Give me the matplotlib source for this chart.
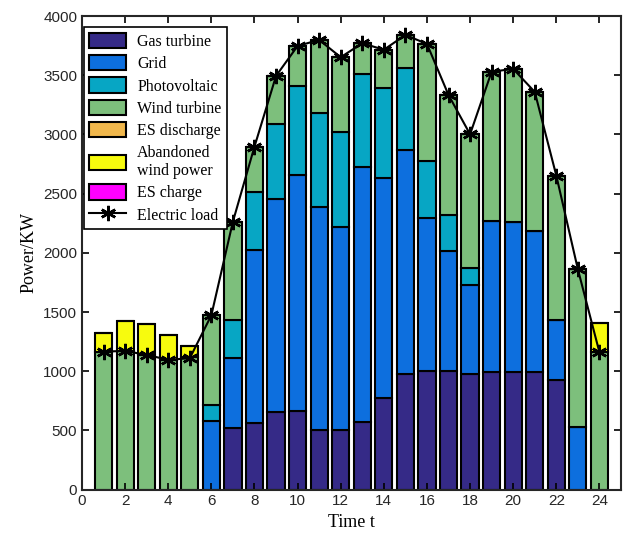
import numpy as np
import matplotlib
matplotlib.use("Agg")
import matplotlib.pyplot as plt

# Datos (kW por hora)
hours = np.arange(1, 25)
gas = [0, 0, 0, 0, 0, 0, 518, 566, 659, 665, 504, 502, 574, 777, 980, 1000, 1000, 977, 997, 997, 997, 927, 0, 0]
grid = [0, 0, 0, 0, 0, 580, 597, 1459, 1794, 1993, 1881, 1719, 2149, 1853, 1889, 1292, 1013, 754, 1275, 1261, 1191, 506, 527, 0]
pv = [0, 0, 0, 0, 0, 138, 316, 492, 635, 754, 794, 803, 788, 765, 690, 484, 307, 139, 0, 0, 0, 0, 0, 0]
wind = [1166, 1171, 1138, 1096, 1117, 755, 833, 380, 406, 335, 619, 628, 259, 320, 281, 988, 1013, 1131, 1258, 1295, 1171, 1219, 1334, 1160]
es_discharge = [0] * 24
abandoned = [160, 251, 262, 211, 97, 0, 0, 0, 0, 0, 0, 0, 0, 0, 0, 0, 0, 0, 0, 0, 0, 0, 0, 245]
es_charge = [0] * 24
load = [1166, 1171, 1138, 1096, 1110, 1473, 2264, 2897, 3494, 3747, 3798, 3652, 3770, 3715, 3840, 3764, 3333, 3001, 3530, 3553, 3359, 2652, 1861, 1160]

labels = ["Gas turbine", "Grid", "Photovoltaic", "Wind turbine", "ES discharge",
          "Abandoned\nwind power", "ES charge"]
colors = ["#352a87", "#0d6fde", "#07a6c4", "#7dbf7c", "#f0b74c", "#f7fb0e", "#ff00ff"]
series = [gas, grid, pv, wind, es_discharge, abandoned, es_charge]

fig = plt.figure(figsize=(6.26, 5.52), dpi=100)
ax = fig.add_axes([0.131, 0.113, 0.861, 0.858])

bottom = np.zeros(24)
for vals, lab, col in zip(series, labels, colors):
    vals = np.array(vals, dtype=float)
    ax.bar(hours, vals, bottom=bottom, width=0.8, color=col, edgecolor="black",
           linewidth=1.5, label=lab)
    bottom += vals

ax.plot(hours, load, color="black", marker=(6, 2, 0), markersize=11,
        markeredgewidth=1.8, linewidth=1.5, label="Electric load")

ax.set_xlim(0, 25)
ax.set_ylim(0, 4000)
ax.set_xticks(np.arange(0, 25, 2))
ax.set_yticks(np.arange(0, 4001, 500))
ax.tick_params(direction="in", top=True, right=True, labelsize=11, width=1.2, length=5)
for lbl in ax.get_xticklabels() + ax.get_yticklabels():
    lbl.set_fontfamily("Liberation Sans")
    lbl.set_color("#262626")
for sp in ax.spines.values():
    sp.set_linewidth(1.5)
    sp.set_color("#262626")

ax.set_xlabel("Time t", fontfamily="Liberation Serif", fontsize=13)
ax.set_ylabel("Power/KW", fontfamily="Liberation Serif", fontsize=13)

handles, labs = ax.get_legend_handles_labels()
# la curva de carga va al final de la leyenda
handles = handles[1:] + handles[:1]
labs = labs[1:] + labs[:1]
leg = ax.legend(handles, labs, loc="upper left", bbox_to_anchor=(0.0, 0.98),
                prop={"family": "Liberation Serif", "size": 11.5},
                frameon=True, fancybox=False, edgecolor="black", framealpha=1,
                borderaxespad=0.1, handlelength=2.3, handleheight=1.1,
                labelspacing=0.33, borderpad=0.35, handletextpad=0.7)
leg.get_frame().set_linewidth(1.2)

fig.savefig("out.png", dpi=100)
